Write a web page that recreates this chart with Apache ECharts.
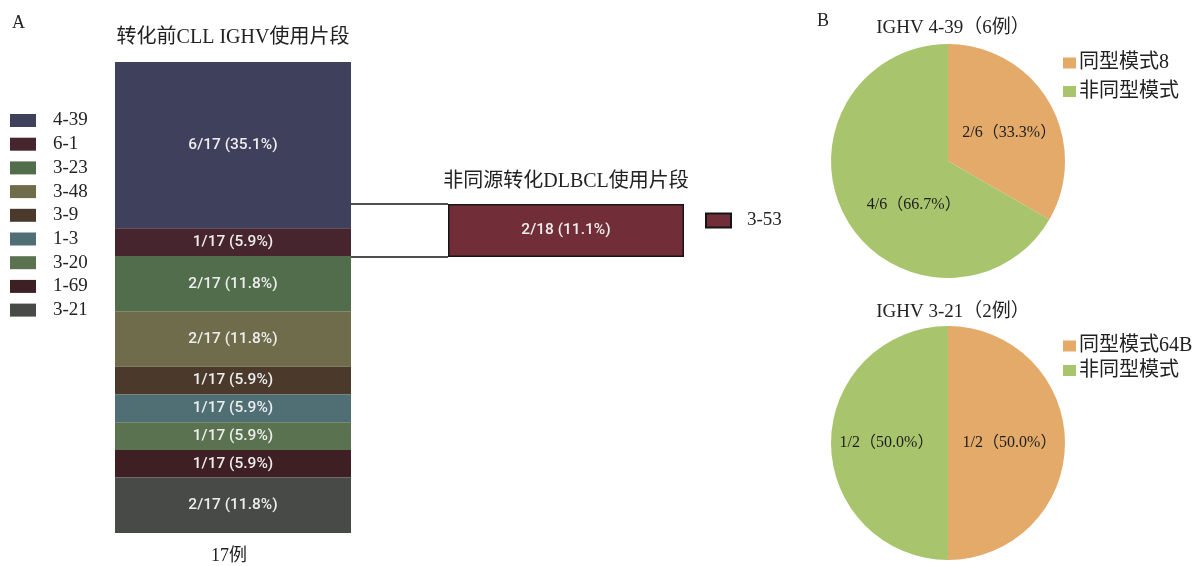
<!DOCTYPE html>
<html>
<head>
<meta charset="utf-8">
<script src="https://cdn.jsdelivr.net/npm/echarts@6/dist/echarts.min.js"></script>
<style>
  html, body { margin: 0; padding: 0; background: #fff; }
  #chart { width: 1198px; height: 566px; }
</style>
</head>
<body>
<div id="chart"></div>
<script>
// IGHV segments used by CLL before transformation (17 cases)
const cllSegments = ['4-39', '6-1', '3-23', '3-48', '3-9', '1-3', '3-20', '1-69', '3-21'];
const cllCounts = [6, 1, 2, 2, 1, 1, 1, 1, 2];
const cllPercents = ['35.1', '5.9', '11.8', '11.8', '5.9', '5.9', '5.9', '5.9', '11.8'];
const cllTotal = 17;
const cllColors = ['#3f405c', '#47252f', '#526d4b', '#6e6c4a', '#4b3a2c', '#4f6f75', '#5b7251', '#3e1f23', '#474a47'];

// Segment used by the clonally unrelated DLBCL
const dlbclSegment = '3-53';
const dlbclCount = 2;
const dlbclTotal = 18;
const dlbclPercent = '11.1';
const dlbclColor = '#722e38';

// Stereotyped subsets within IGHV 4-39 and IGHV 3-21
const pie1Title = 'IGHV 4-39（6例）';
const pie1Names = ['同型模式8', '非同型模式'];
const pie1Values = [2, 4];
const pie2Title = 'IGHV 3-21（2例）';
const pie2Names = ['同型模式64B', '非同型模式'];
const pie2Values = [1, 1];
const pieColors = ['#e3aa6a', '#a8c56e'];

const SERIF = "'Liberation Serif', 'Noto Sans CJK SC', serif";
const SANS = "Roboto, 'Liberation Sans', sans-serif";

// layout
const barGrid = { left: 115, top: 62, width: 236, height: 471 };
const dlbclGrid = { left: 448, top: 204, width: 236, height: 53 };

const chart = echarts.init(document.getElementById('chart'), null, { renderer: 'canvas' });

const barLabel = {
  show: true,
  position: 'inside',
  color: '#ededed',
  fontFamily: SANS,
  fontWeight: 500,
  fontSize: 15.5
};

const cllSeries = cllSegments.map((name, i) => ({
  type: 'bar',
  name: name,
  stack: 'cll',
  xAxisIndex: 0,
  yAxisIndex: 0,
  barWidth: '100%',
  data: [cllCounts[i]],
  itemStyle: { color: cllColors[i] },
  label: Object.assign({}, barLabel, {
    formatter: cllCounts[i] + '/' + cllTotal + ' (' + cllPercents[i] + '%)'
  })
}));

function pieSeries(names, values, center, offsets) {
  const total = values.reduce((a, b) => a + b, 0);
  return {
    type: 'pie',
    center: center,
    radius: 117,
    startAngle: 90,
    clockwise: true,
    silent: true,
    data: names.map((n, i) => ({
      name: n,
      value: values[i],
      itemStyle: { color: pieColors[i] },
      label: offsets && offsets[i] ? { offset: offsets[i] } : {}
    })),
    label: {
      show: true,
      position: 'inside',
      color: '#1e1e1e',
      fontFamily: SERIF,
      fontSize: 16,
      formatter: p => p.value + '/' + total + '（' + (p.value / total * 100).toFixed(1) + '%）'
    },
    labelLine: { show: false }
  };
}

const legendText = { fontFamily: SERIF, fontSize: 19, color: '#222' };

const option = {
  animation: false,
  backgroundColor: '#fff',
  grid: [
    Object.assign({}, barGrid),
    Object.assign({}, dlbclGrid)
  ],
  xAxis: [
    { type: 'category', gridIndex: 0, data: ['CLL'], show: false },
    { type: 'value', gridIndex: 1, min: 0, max: dlbclCount, show: false }
  ],
  yAxis: [
    { type: 'value', gridIndex: 0, min: 0, max: cllTotal, inverse: true, show: false },
    { type: 'category', gridIndex: 1, data: ['DLBCL'], show: false }
  ],
  legend: [
    {
      data: cllSegments,
      orient: 'vertical',
      left: 5, top: 106,
      itemWidth: 26, itemHeight: 13, itemGap: 4.7,
      icon: 'rect',
      selectedMode: false,
      textStyle: Object.assign({}, legendText, { padding: [0, 0, 0, 12] })
    },
    {
      data: [dlbclSegment],
      orient: 'vertical',
      left: 700, top: 206,
      itemWidth: 25, itemHeight: 14,
      icon: 'rect',
      selectedMode: false,
      textStyle: Object.assign({}, legendText, { padding: [0, 0, 0, 11] })
    },
    {
      data: pie1Names,
      orient: 'vertical',
      left: 1058, top: 48,
      itemWidth: 13, itemHeight: 11, itemGap: 8.5,
      icon: 'rect',
      selectedMode: false,
      textStyle: Object.assign({}, legendText, { fontSize: 20, padding: [0, 0, 0, -2] })
    },
    {
      data: pie2Names,
      orient: 'vertical',
      left: 1058, top: 331,
      itemWidth: 13, itemHeight: 11, itemGap: 4.5,
      icon: 'rect',
      selectedMode: false,
      textStyle: Object.assign({}, legendText, { fontSize: 20, padding: [0, 0, 0, -2] })
    }
  ],
  series: cllSeries.concat([
    {
      type: 'bar',
      name: dlbclSegment,
      xAxisIndex: 1,
      yAxisIndex: 1,
      barWidth: '100%',
      data: [dlbclCount],
      itemStyle: { color: dlbclColor, borderColor: '#151515', borderWidth: 1.5 },
      label: Object.assign({}, barLabel, {
        formatter: dlbclCount + '/' + dlbclTotal + ' (' + dlbclPercent + '%)'
      })
    },
    pieSeries(pie1Names, pie1Values, [948, 161], [[8, 3], [19, 13]]),
    pieSeries(pie2Names, pie2Values, [948, 443], null)
  ]),
  graphic: [
    // bracket joining the CLL bar to the DLBCL bar
    {
      type: 'polyline',
      shape: { points: [
        [barGrid.left + barGrid.width, dlbclGrid.top],
        [dlbclGrid.left, dlbclGrid.top]
      ] },
      style: { stroke: '#151515', lineWidth: 1.5, fill: null },
      z: 10
    },
    {
      type: 'polyline',
      shape: { points: [
        [barGrid.left + barGrid.width, dlbclGrid.top + dlbclGrid.height],
        [dlbclGrid.left, dlbclGrid.top + dlbclGrid.height]
      ] },
      style: { stroke: '#151515', lineWidth: 1.5, fill: null },
      z: 10
    },
    { type: 'text', left: 12, top: 14, style: { text: 'A', font: '18px ' + SERIF, fill: '#222' } },
    { type: 'text', x: barGrid.left + barGrid.width / 2, y: 38,
      style: { text: '转化前CLL IGHV使用片段', font: '20px ' + SERIF, fill: '#222', textAlign: 'center', textVerticalAlign: 'middle' } },
    { type: 'text', x: barGrid.left + barGrid.width / 2 - 4, y: 556,
      style: { text: cllTotal + '例', font: '18px ' + SERIF, fill: '#222', textAlign: 'center', textVerticalAlign: 'middle' } },
    { type: 'text', x: dlbclGrid.left + dlbclGrid.width / 2, y: 182,
      style: { text: '非同源转化DLBCL使用片段', font: '20px ' + SERIF, fill: '#222', textAlign: 'center', textVerticalAlign: 'middle' } },
    { type: 'text', left: 817, top: 12, style: { text: 'B', font: '18px ' + SERIF, fill: '#222' } },
    { type: 'text', x: 953, y: 28,
      style: { text: pie1Title, font: '19px ' + SERIF, fill: '#222', textAlign: 'center', textVerticalAlign: 'middle' } },
    { type: 'text', x: 953, y: 312,
      style: { text: pie2Title, font: '19px ' + SERIF, fill: '#222', textAlign: 'center', textVerticalAlign: 'middle' } }
  ]
};

chart.setOption(option);
</script>
</body>
</html>
